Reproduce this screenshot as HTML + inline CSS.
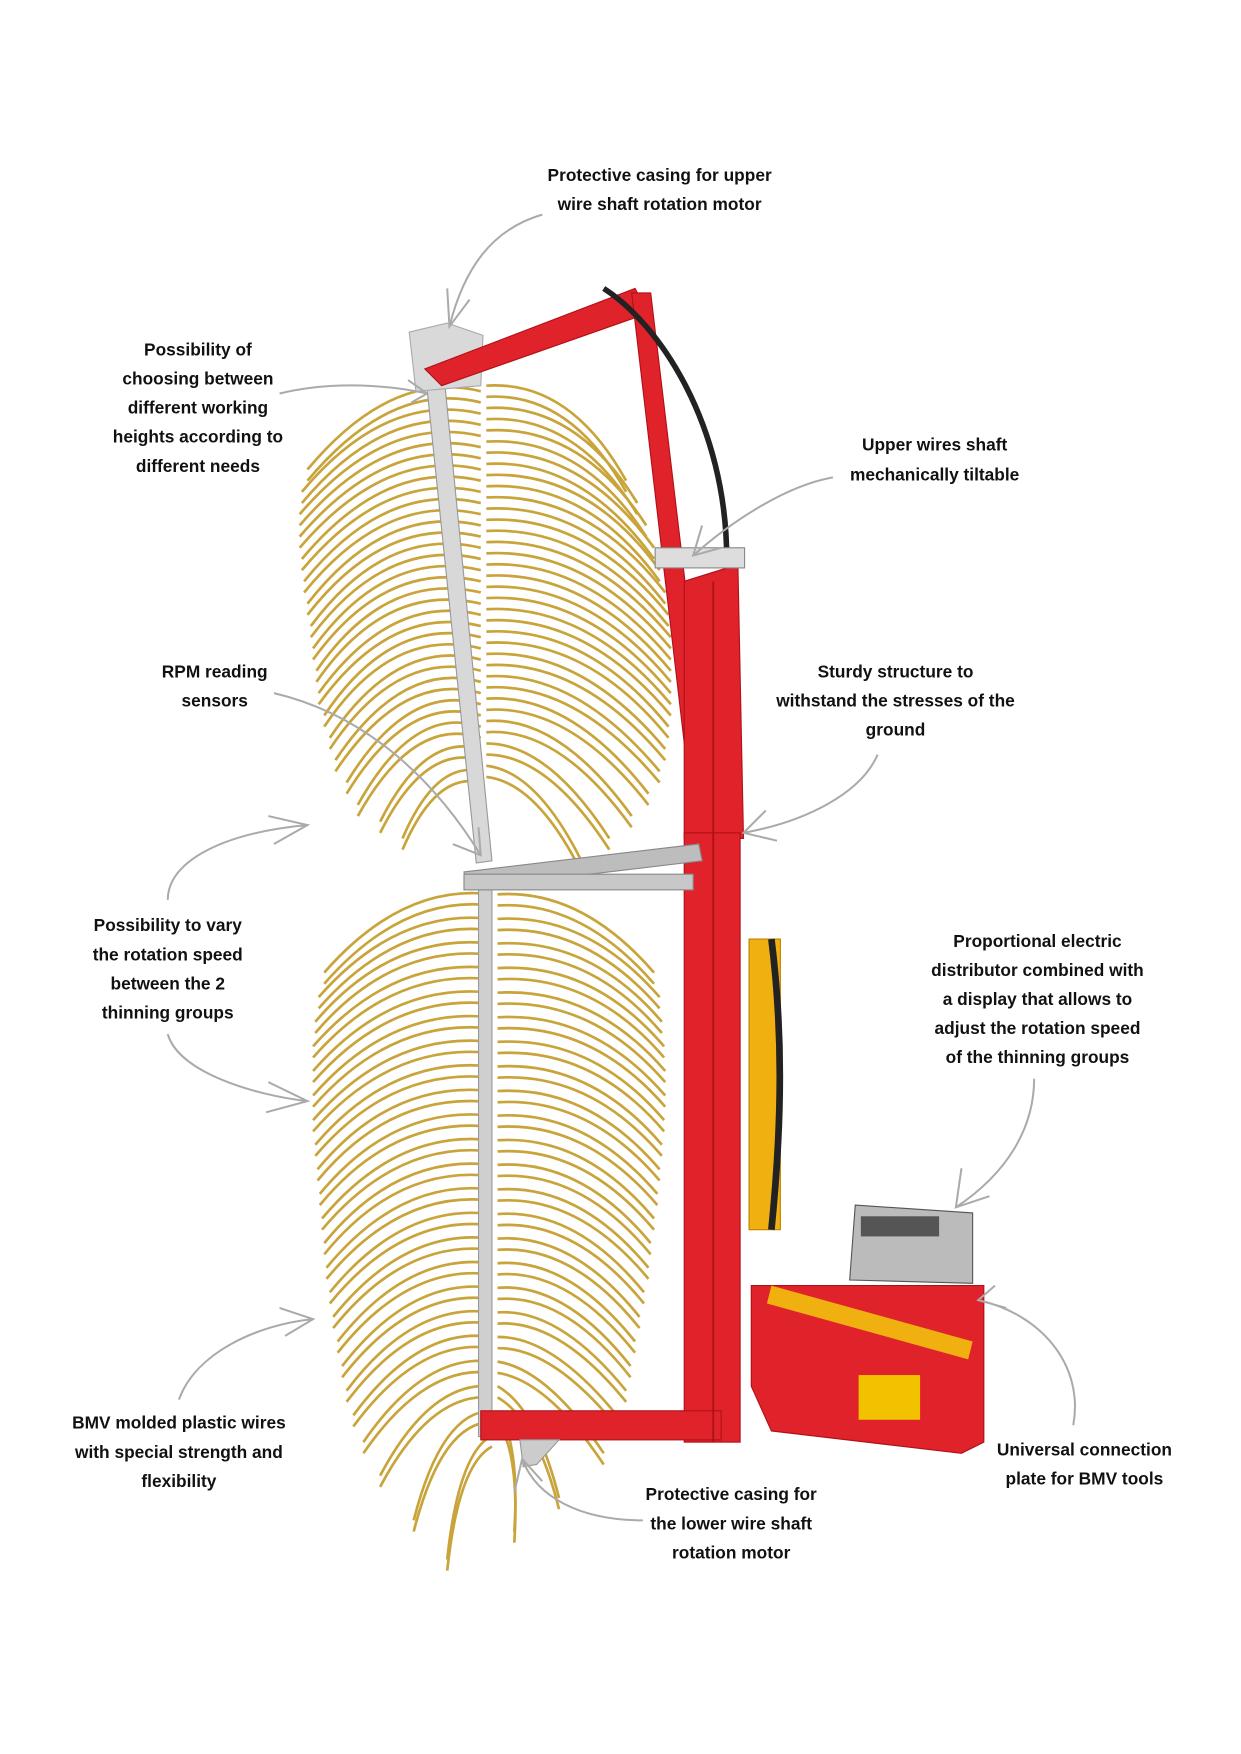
<!DOCTYPE html>
<html><head><meta charset="utf-8"><style>
html,body{margin:0;padding:0;background:#fff;}
svg{display:block;}
text{font-family:"Liberation Sans",sans-serif;font-weight:bold;font-size:15.5px;fill:#111;text-anchor:middle;}
</style></head><body>
<svg width="1241" height="1754" viewBox="0 0 1110 1569" xmlns="http://www.w3.org/2000/svg">
<rect width="1110" height="1569" fill="#fff"/>
<defs>
<g id="wires">
<path d="M430,350 Q350,330 275,420 M430,370 Q345,350 270,440 M430,390 Q345,370 268,460 M430,410 Q345,390 268,480 M430,430 Q345,410 270,500 M430,450 Q345,430 272,520 M430,470 Q345,450 275,540 M430,490 Q345,470 278,560 M430,510 Q345,490 280,580 M430,530 Q345,510 283,600 M430,550 Q350,530 285,620 M430,570 Q350,550 290,640 M430,590 Q355,570 295,660 M430,610 Q360,590 300,680 M430,630 Q365,610 310,700 M430,650 Q370,630 320,720 M430,670 Q380,655 340,735 M430,690 Q390,680 360,750"/>
<path d="M435,345 Q510,340 560,430 M435,365 Q515,360 570,450 M435,385 Q520,380 578,470 M435,405 Q520,400 585,490 M435,425 Q525,420 590,510 M435,445 Q525,440 595,530 M435,465 Q525,460 598,550 M435,485 Q525,480 600,570 M435,505 Q525,500 600,590 M435,525 Q525,520 600,610 M435,545 Q525,540 600,630 M435,565 Q525,560 598,650 M435,585 Q520,580 595,670 M435,605 Q515,600 590,690 M435,625 Q510,620 580,710 M435,645 Q500,640 565,730 M435,665 Q490,665 545,750 M435,685 Q480,690 520,770"/>
<path d="M440,800 Q360,790 290,870 M440,822 Q355,812 285,892 M440,844 Q350,834 282,914 M440,866 Q350,856 280,936 M440,888 Q350,878 280,958 M440,910 Q350,900 280,980 M440,932 Q350,922 280,1002 M440,954 Q350,944 282,1024 M440,976 Q350,966 284,1046 M440,998 Q352,988 286,1068 M440,1020 Q355,1010 288,1090 M440,1042 Q355,1032 290,1112 M440,1064 Q358,1054 292,1134 M440,1086 Q360,1076 295,1156 M440,1108 Q362,1098 298,1178 M440,1130 Q365,1120 302,1200 M440,1152 Q368,1142 306,1222 M440,1174 Q370,1164 310,1244 M440,1196 Q375,1186 316,1266 M440,1218 Q380,1210 325,1290 M440,1240 Q385,1235 340,1320 M440,1262 Q395,1262 370,1360 M440,1284 Q410,1300 400,1395"/>
<path d="M445,800 Q520,795 585,870 M445,822 Q525,817 590,892 M445,844 Q528,839 592,914 M445,866 Q530,861 594,936 M445,888 Q530,883 595,958 M445,910 Q530,905 595,980 M445,932 Q530,927 594,1002 M445,954 Q528,949 592,1024 M445,976 Q526,971 590,1046 M445,998 Q524,993 588,1068 M445,1020 Q522,1015 585,1090 M445,1042 Q520,1037 582,1112 M445,1064 Q518,1059 580,1134 M445,1086 Q515,1081 576,1156 M445,1108 Q512,1103 572,1178 M445,1130 Q508,1125 568,1200 M445,1152 Q505,1147 564,1222 M445,1174 Q500,1170 560,1244 M445,1196 Q495,1195 555,1270 M445,1218 Q490,1225 540,1300 M445,1240 Q480,1260 500,1340 M445,1262 Q465,1290 460,1370"/>
</g>
</defs>
<g fill="none" stroke="#c8a43a" stroke-width="2.4">
<use href="#wires"/>
<use href="#wires" transform="translate(0,10)"/>
</g>
<!-- shafts -->
<polygon points="382,348 398,345 440,770 426,772" fill="#d8d8d8" stroke="#999"/>
<rect x="428" y="795" width="12" height="490" fill="#cfcfcf" stroke="#999"/>
<polygon points="366,297 400,289 432,300 430,345 372,350" fill="#d9d9d9" stroke="#aaa"/>
<!-- red frame -->
<g fill="#e0232a" stroke="#b01018" stroke-width="1">
<polygon points="380,330 568,258 580,280 395,345"/>
<polygon points="565,262 582,262 640,750 622,750"/>
<polygon points="612,520 660,505 665,750 612,750"/>
<rect x="612" y="745" width="50" height="545"/>
<rect x="670" y="840" width="28" height="260" fill="#f0b010" stroke="#c08000"/>
<rect x="430" y="1262" width="215" height="26"/>
<polygon points="672,1150 880,1150 880,1290 860,1300 690,1280 672,1240"/>
</g>
<line x1="638" y1="520" x2="638" y2="1290" stroke="#a81016" stroke-width="1.5"/>
<polygon points="415,780 625,755 628,770 418,795" fill="#bdbdbd" stroke="#888"/>
<rect x="415" y="782" width="205" height="14" fill="#c8c8c8" stroke="#888"/>
<polygon points="465,1288 500,1288 480,1310 468,1312" fill="#ccc" stroke="#999"/>
<path d="M540,258 C590,290 650,380 650,500" stroke="#222" stroke-width="5" fill="none"/>
<path d="M690,840 C700,920 700,1000 690,1100" stroke="#222" stroke-width="6" fill="none"/>
<polygon points="765,1078 870,1085 870,1148 760,1145" fill="#bbb" stroke="#555"/>
<rect x="770" y="1088" width="70" height="18" fill="#555"/>
<polygon points="690,1150 870,1200 866,1216 686,1166" fill="#f0b010"/>
<rect x="768" y="1230" width="55" height="40" fill="#f2c200"/>
<rect x="586" y="490" width="80" height="18" fill="#ddd" stroke="#888"/>
<g fill="none" stroke="#aaa" stroke-width="1.8">
<path d="M485,192 C440,205 415,240 402,292 M400,258 L402,292 L420,268"/>
<path d="M250,352 C300,340 350,345 382,352 M365,340 L382,352 L368,360"/>
<path d="M745,427 C700,435 650,470 620,497 M628,470 L620,497 L645,490"/>
<path d="M245,620 C330,640 390,700 430,765 M405,755 L430,765 L428,740"/>
<path d="M785,675 C770,710 720,735 665,745 M685,725 L665,745 L695,752"/>
<path d="M150,805 C150,770 200,745 275,738 M240,730 L275,738 L245,755"/>
<path d="M150,925 C160,960 230,980 275,985 M240,968 L275,985 L238,995"/>
<path d="M925,965 C925,1010 900,1050 855,1080 M860,1045 L855,1080 L885,1070"/>
<path d="M160,1252 C175,1210 230,1185 280,1180 M250,1170 L280,1180 L255,1195"/>
<path d="M960,1275 C970,1220 930,1175 875,1163 M890,1150 L875,1163 L900,1170"/>
<path d="M575,1360 C520,1360 480,1340 467,1305 M460,1335 L467,1305 L485,1325"/>
</g>
<text x="590" y="162">Protective casing for upper</text>
<text x="590" y="188">wire shaft rotation motor</text>
<text x="177" y="318">Possibility of</text>
<text x="177" y="344">choosing between</text>
<text x="177" y="370">different working</text>
<text x="177" y="396">heights according to</text>
<text x="177" y="422">different needs</text>
<text x="836" y="403">Upper wires shaft</text>
<text x="836" y="430">mechanically tiltable</text>
<text x="192" y="606">RPM reading</text>
<text x="192" y="632">sensors</text>
<text x="801" y="606">Sturdy structure to</text>
<text x="801" y="632">withstand the stresses of the</text>
<text x="801" y="658">ground</text>
<text x="150" y="833">Possibility to vary</text>
<text x="150" y="859">the rotation speed</text>
<text x="150" y="885">between the 2</text>
<text x="150" y="911">thinning groups</text>
<text x="928" y="847">Proportional electric</text>
<text x="928" y="873">distributor combined with</text>
<text x="928" y="899">a display that allows to</text>
<text x="928" y="925">adjust the rotation speed</text>
<text x="928" y="951">of the thinning groups</text>
<text x="160" y="1278">BMV molded plastic wires</text>
<text x="160" y="1304">with special strength and</text>
<text x="160" y="1330">flexibility</text>
<text x="970" y="1302">Universal connection</text>
<text x="970" y="1328">plate for BMV tools</text>
<text x="654" y="1342">Protective casing for</text>
<text x="654" y="1368">the lower wire shaft</text>
<text x="654" y="1394">rotation motor</text>
</svg>
</body></html>
